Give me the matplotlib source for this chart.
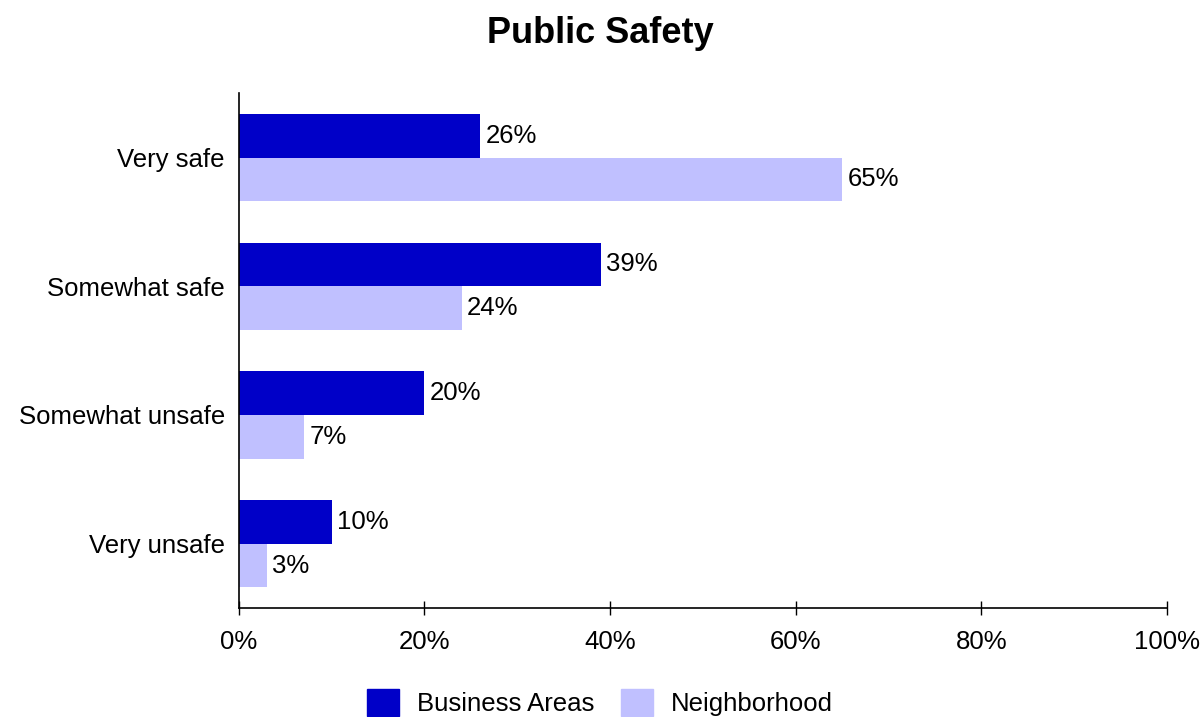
import numpy as np
import matplotlib.pyplot as plt
from matplotlib.patches import Patch

plt.rcParams['font.family'] = ['Liberation Sans', 'DejaVu Sans']

categories = ['Very safe', 'Somewhat safe', 'Somewhat unsafe', 'Very unsafe']
business = [26, 39, 20, 10]
neighborhood = [65, 24, 7, 3]
xticks = [0, 20, 40, 60, 80, 100]

dark = '#0000C8'
light = '#C0C0FF'

fig = plt.figure(figsize=(12, 7.17), dpi=100)
ax = fig.add_axes([0.199, 0.152, 0.7735, 0.718])

y = np.arange(len(categories))
h = 0.34
ax.barh(y - h / 2, business, height=h, color=dark)
ax.barh(y + h / 2, neighborhood, height=h, color=light)

fs = 18.5
for yi, b, n in zip(y, business, neighborhood):
    ax.text(b + 0.6, yi - h / 2, f'{b}%', va='center', ha='left', fontsize=fs)
    ax.text(n + 0.6, yi + h / 2, f'{n}%', va='center', ha='left', fontsize=fs)

ax.set_ylim(3.5, -0.5)
ax.set_xlim(0, 100)
ax.set_yticks(y)
ax.set_yticklabels(categories, fontsize=fs)
ax.set_xticks(xticks)
ax.set_xticklabels([f'{t}%' for t in xticks], fontsize=fs)
ax.tick_params(axis='y', length=0, pad=10)
ax.tick_params(axis='x', direction='inout', length=10, width=1, pad=11)
for s in ['top', 'right']:
    ax.spines[s].set_visible(False)
for s in ['left', 'bottom']:
    ax.spines[s].set_linewidth(1.2)

fig.suptitle('Public Safety', fontsize=26, fontweight='bold', y=0.977)

handles = [Patch(color=dark, label='Business Areas'), Patch(color=light, label='Neighborhood')]
fig.legend(handles=handles, loc='center', bbox_to_anchor=(0.5, 0.02), ncol=2,
           frameon=False, fontsize=fs, handlelength=1.25, handleheight=1.25,
           handletextpad=0.7, columnspacing=1.0)

fig.savefig('out.png')
